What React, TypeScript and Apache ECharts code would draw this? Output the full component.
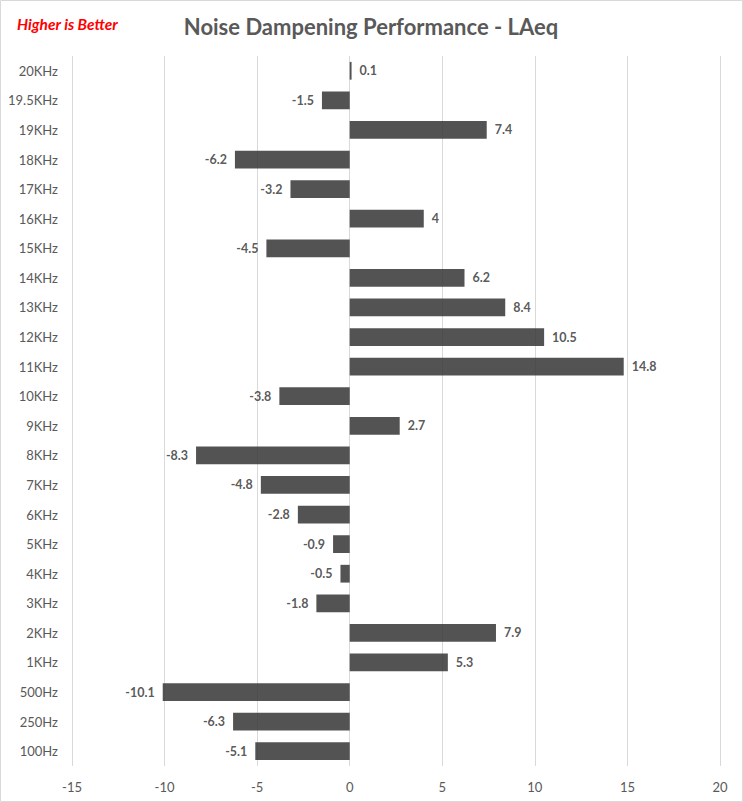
import React, { useEffect, useRef } from "react";
import * as echarts from "echarts";

const categories = [
  "20KHz", "19.5KHz", "19KHz", "18KHz", "17KHz", "16KHz", "15KHz", "14KHz",
  "13KHz", "12KHz", "11KHz", "10KHz", "9KHz", "8KHz", "7KHz", "6KHz",
  "5KHz", "4KHz", "3KHz", "2KHz", "1KHz", "500Hz", "250Hz", "100Hz",
];
const values = [
  0.1, -1.5, 7.4, -6.2, -3.2, 4, -4.5, 6.2,
  8.4, 10.5, 14.8, -3.8, 2.7, -8.3, -4.8, -2.8,
  -0.9, -0.5, -1.8, 7.9, 5.3, -10.1, -6.3, -5.1,
];
const xTicks = { min: -15, max: 20, interval: 5 };
const titleText = "Noise Dampening Performance - LAeq";
const noteText = "Higher is Better";

export default function App() {
  const ref = useRef<HTMLDivElement>(null);
  useEffect(() => {
    document.body.style.margin = "0";
    const chart = echarts.init(ref.current!, null, { renderer: "svg" });
    chart.setOption({
      animation: false,
      backgroundColor: "#ffffff",
      graphic: [
        {
          type: "rect",
          shape: { x: 0.5, y: 0.5, width: 742, height: 801 },
          style: { fill: "none", stroke: "#d9d9d9", lineWidth: 1 },
          z: 100,
        },
      ],
      title: [
        {
          text: titleText,
          left: 366,
          textAlign: "center",
          top: 10,
          textStyle: { fontFamily: "Lato", fontWeight: "bold", fontSize: 22, color: "#595959" },
        },
        {
          text: noteText,
          left: 12,
          top: 11,
          textStyle: { fontFamily: "Lato", fontWeight: "bold", fontStyle: "italic", fontSize: 15.5, color: "#ff0000" },
        },
      ],
      grid: { left: 72, right: 23, top: 56, bottom: 36, containLabel: false },
      xAxis: {
        type: "value",
        min: xTicks.min,
        max: xTicks.max,
        interval: xTicks.interval,
        axisLine: { show: false },
        axisTick: { show: false },
        splitLine: { show: true, lineStyle: { color: "#d9d9d9", width: 1 } },
        axisLabel: { color: "#595959", fontFamily: "Lato", fontSize: 13, margin: 14 },
      },
      yAxis: {
        type: "category",
        data: categories,
        inverse: true,
        axisLine: { show: false },
        axisTick: { show: false },
        axisLabel: { color: "#595959", fontFamily: "Lato", fontSize: 13, margin: 14 },
      },
      series: [
        {
          type: "bar",
          data: values.map((v) => ({
            value: v,
            label: { position: v < 0 ? "left" : "right" },
          })),
          barWidth: "60%",
          itemStyle: { color: "#3a3a3a", opacity: 0.87 },
          label: {
            show: true,
            distance: 8,
            color: "#404040",
            fontFamily: "Lato",
            fontWeight: "bold",
            fontSize: 12.5,
          },
        },
      ],
    });
    return () => chart.dispose();
  }, []);
  return <div ref={ref} style={{ width: 743, height: 802 }} />;
}
